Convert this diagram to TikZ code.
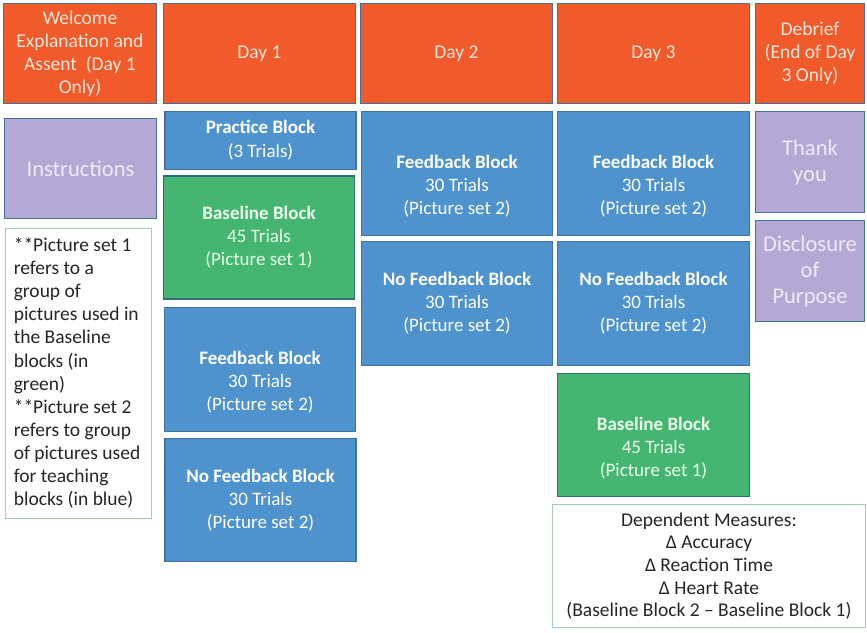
\documentclass[tikz,border=0pt]{standalone}
\usepackage{fontspec}
\setmainfont{Carlito}
\usetikzlibrary{positioning}
\definecolor{hdrorange}{HTML}{F15A2B}
\definecolor{blkblue}{HTML}{4E93CE}
\definecolor{blkgreen}{HTML}{45B672}
\definecolor{blklilac}{HTML}{B4A9D5}
\definecolor{edgeblue}{HTML}{41719C}
\definecolor{edgegreen}{HTML}{2E6E78}
\definecolor{notegreen}{HTML}{9BD3B0}
\definecolor{hdrtext}{HTML}{FCE6D8}
\definecolor{liltext}{HTML}{EEEBF7}
\definecolor{inktext}{HTML}{262626}

\tikzset{
  box/.style={draw=edgeblue, line width=1.4pt, inner sep=2pt, align=center,
    font=\fontsize{19}{23}\selectfont},
  header/.style={box, fill=hdrorange, text=hdrtext, minimum height=100,
    font=\fontsize{19.5}{23}\selectfont},
  teach/.style={box, fill=blkblue, text=white, minimum width=191},
  baseline/.style={box, fill=blkgreen, draw=edgegreen, text=white!92!green, minimum width=191, minimum height=123},
  extra/.style={box, fill=blklilac, text=liltext, minimum width=109, minimum height=101,
    font=\fontsize{22.5}{26}\selectfont},
  note/.style={draw=notegreen, line width=0.8pt, fill=white, text=inktext, inner sep=0pt,
    font=\fontsize{19.5}{23}\selectfont},
  notetext/.style={text=inktext, inner sep=0pt, font=\fontsize{19.5}{23.1}\selectfont}
}

\begin{document}
\begin{tikzpicture}[x=1pt,y=-1pt]
\useasboundingbox (0,0) rectangle (867,632);
% top row
\node[header, minimum width=153] (welcome) at (80,53.5) {Welcome\\Explanation and\\Assent\ \ (Day 1\\Only)};
\foreach \d/\x in {1/259.5,2/456.5,3/653.5}
  \node[header, minimum width=192] (day\d) at (\x,53.5) {Day \d};
\node[header, minimum width=109] (debrief) at (810,53.5) {Debrief\\(End of Day\\3 Only)};

% left column
\node[extra, minimum width=152, minimum height=100] (instr) at (80.5,168.5) {Instructions};
\node[note, minimum width=146, minimum height=290] (legend) at (78,373) {};
\node[notetext, align=left, anchor=west] (legendtxt) at ([xshift=9]legend.west)
  {**Picture set 1\\refers to a\\group of\\pictures used in\\the Baseline\\blocks (in\\green)\\**Picture set 2\\refers to group\\of pictures used\\for teaching\\blocks (in blue)};

% day 1
\node[teach, minimum height=58, font=\fontsize{19}{24}\selectfont] (practice) at (260.5,140.5) {\textbf{Practice Block}\\(3 Trials)};
\node[baseline] (base1) at (259,237.5) {\textbf{Baseline Block}\\45 Trials\\(Picture set 1)};
\node[teach, minimum height=124] (fb1) at (260,369.5) {\strut\\\textbf{Feedback Block}\\30 Trials\\(Picture set 2)};
\node[teach, minimum height=123] (nofb1) at (260.5,500) {\textbf{No Feedback Block}\\30 Trials\\(Picture set 2)};

% day 2
\node[teach, minimum height=124] (fb2) at (457,173.5) {\strut\\\textbf{Feedback Block}\\30 Trials\\(Picture set 2)};
\node[teach, minimum height=124] (nofb2) at (457,303.5) {\textbf{No Feedback Block}\\30 Trials\\(Picture set 2)};

% day 3
\node[teach, minimum width=192, minimum height=124] (fb3) at (653.5,173.5) {\strut\\\textbf{Feedback Block}\\30 Trials\\(Picture set 2)};
\node[teach, minimum width=192, minimum height=124] (nofb3) at (653.5,303.5) {\textbf{No Feedback Block}\\30 Trials\\(Picture set 2)};
\node[baseline, minimum width=192] (base3) at (653.5,435) {\strut\\\textbf{Baseline Block}\\45 Trials\\(Picture set 1)};
\node[note, align=center, minimum width=313, minimum height=123, font=\fontsize{19.5}{22.7}\selectfont] (measures) at (709,566)
  {Dependent Measures:\\Δ Accuracy\\Δ Reaction Time\\Δ Heart Rate\\(Baseline Block 2 – Baseline Block 1)};

% debrief column
\node[extra] (thanks) at (810,162) {Thank\\you};
\node[extra] (disclose) at (810,271) {Disclosure\\of\\Purpose};
\end{tikzpicture}
\end{document}
